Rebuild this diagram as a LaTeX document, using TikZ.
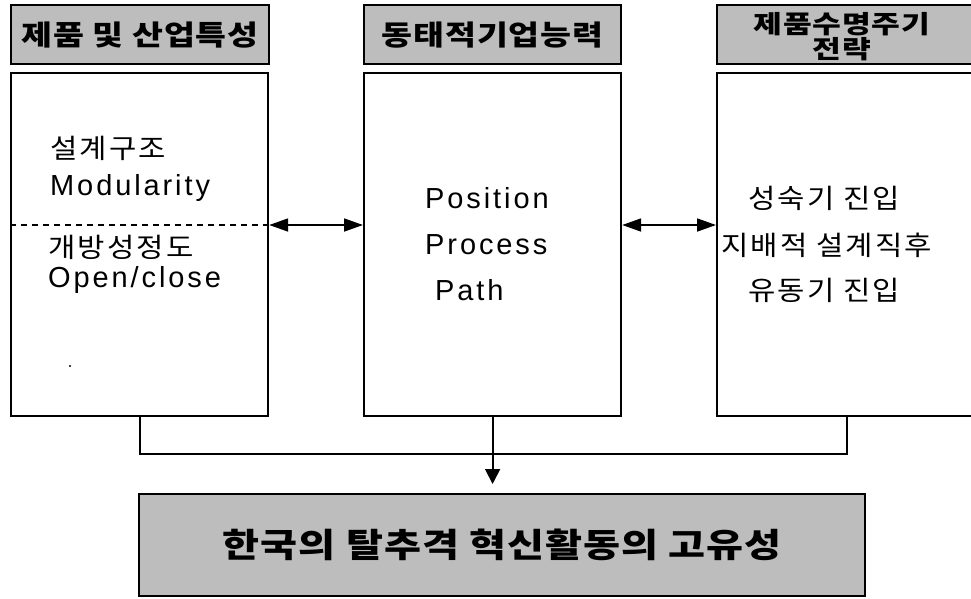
\documentclass[tikz,border=0pt]{standalone}
\usepackage{fontspec}
\setmainfont{Liberation Sans}
\newfontfamily\latsp[LetterSpace=10]{Liberation Sans}
\newfontfamily\kr[LetterSpace=8,FakeStretch=1.1]{Noto Sans CJK KR}
\newfontfamily\krh[LetterSpace=3,FakeStretch=1.2]{Noto Sans CJK KR}
\newfontfamily\krr[LetterSpace=3,FakeStretch=1.25]{Noto Sans CJK KR}
\usetikzlibrary{arrows.meta}
\begin{document}
\begin{tikzpicture}[x=1pt,y=-1pt,
  box/.style={draw, line width=2.2pt, inner sep=0pt, anchor=north west},
  hdr/.style={draw, line width=2.2pt, fill=black!26, inner sep=0pt, anchor=north west},
  conn/.style={line width=1.8pt},
  tipend/.style={-{Triangle[length=15pt,width=15pt]}},
  dtip/.style={{Triangle[length=19pt,width=13pt]}-{Triangle[length=19pt,width=13pt]}},
  kt/.style={font=\kr\fontsize{27}{32}\selectfont, inner sep=0pt, anchor=west},
  lt/.style={font=\latsp\fontsize{29}{30}\selectfont, inner sep=0pt, anchor=west},
  ht/.style={font=\krh\bfseries\fontsize{28}{30}\selectfont, align=center, inner sep=0pt}
]
\useasboundingbox (0,0) rectangle (971,598);
\clip (0,0) rectangle (971,598);
% headers
\node[hdr, minimum width=258pt, minimum height=59pt] (HL) at (10,4) {};
\node[hdr, minimum width=257pt, minimum height=59pt] (HM) at (363,4) {};
\node[hdr, minimum width=274pt, minimum height=59pt] (HR) at (716,4) {};
\node[ht] (tHL) at (HL.center) {제품 및 산업특성};
\node[ht] (tHM) at (HM.center) {동태적기업능력};
\node[ht, font=\krr\bfseries\fontsize{25}{25}\selectfont] (tHR) at (842,37) {제품수명주기\\전략};
% boxes
\node[box, minimum width=257pt, minimum height=343pt] (L) at (10,72) {};
\node[box, minimum width=257pt, minimum height=343pt] (M) at (363,72) {};
\node[box, minimum width=274pt, minimum height=343pt] (R) at (716,72) {};
\draw[line width=1.4pt, dashed, dash pattern=on 6pt off 5pt] (L.west |- 0,225) -- (L.east |- 0,225);
% left texts
\node[kt] (t1) at (50,148) {설계구조};
\node[lt] (t2) at (50,188) {Modularity};
\node[kt] (t3) at (48,247) {개방성정도};
\node[lt] (t4) at (48,280) {Open/close};
\fill (70,366) circle (1.2pt);
% middle texts
\node[lt] (p1) at (425,198) {Position};
\node[lt] (p2) at (425,245) {Process};
\node[lt] (p3) at (435,290) {Path};
% right texts
\node[kt] (r1) at (748,198) {성숙기 진입};
\node[kt] (r2) at (721,245) {지배적 설계직후};
\node[kt] (r3) at (748,290) {유동기 진입};
% arrows
\draw[conn, dtip] (L.east |- 0,225) -- (M.west |- 0,225);
\draw[conn, dtip] (M.east |- 0,225) -- (R.west |- 0,225);
% bottom
\node[hdr, minimum width=726pt, minimum height=102pt] (B) at (138,493) {};
\node[ht, font=\krh\bfseries\fontsize{33.5}{40}\selectfont] (tB) at (B.center) {한국의 탈추격 혁신활동의 고유성};
\draw[conn] (L.south -| 140,0) -- (140,454) -- (847,454) -- (R.south -| 847,0);
\draw[conn, tipend, shorten >=9pt] (M.south) -- (M.south |- B.north);
\end{tikzpicture}
\end{document}
